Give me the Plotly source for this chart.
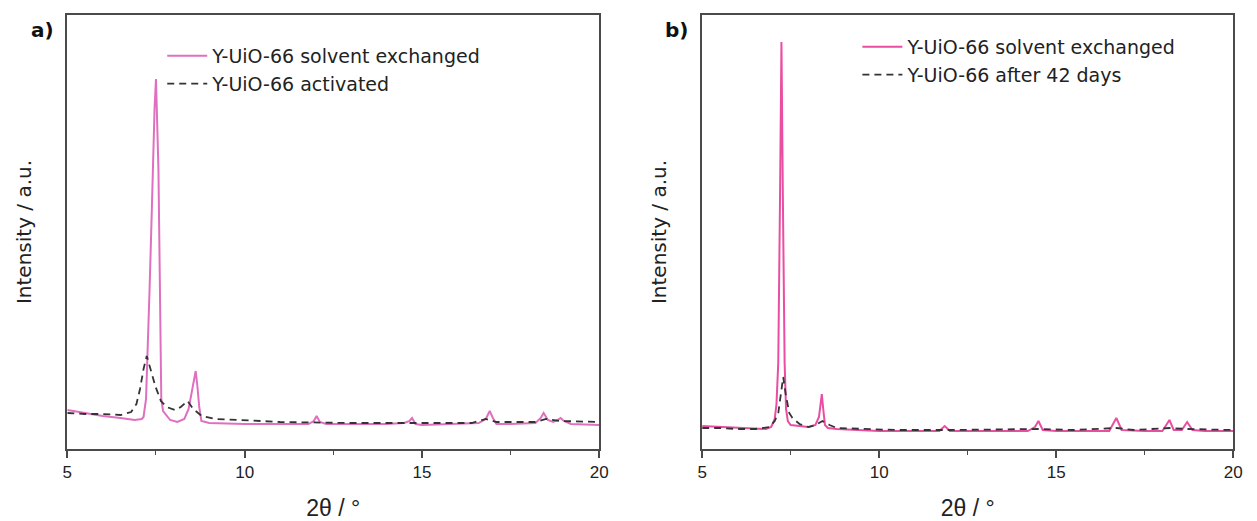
import plotly.graph_objects as go

# ---------------- data (2θ in degrees, intensity in arbitrary units) ----------------
a_solv_x = [5.0, 5.5, 6.0, 6.5, 6.9, 7.1, 7.15, 7.22, 7.26, 7.32, 7.37, 7.42, 7.46, 7.50, 7.54, 7.57, 7.59,
            7.62, 7.65, 7.7, 7.8, 7.9, 8.1, 8.3, 8.42, 8.5, 8.56, 8.62, 8.67, 8.72, 8.78, 9.0, 10.0,
            11.0, 11.8, 11.95, 12.03, 12.12, 12.3, 13.0, 14.0, 14.5, 14.65, 14.72, 14.82, 15.0, 16.0, 16.6,
            16.8, 16.91, 17.0, 17.1, 17.5, 18.2, 18.35, 18.43, 18.55, 18.7, 18.82, 18.91, 19.0, 19.2, 20.0]
a_solv_y = [39, 36, 33, 31, 29, 30, 32, 50, 89, 160, 222, 290, 340, 370, 330, 280, 222,
            100, 50, 38, 33, 29, 27, 30, 40, 55, 70, 78, 62, 42, 28, 26, 25,
            25, 25, 28, 33, 27, 25, 25, 25, 26, 28, 31, 25, 24, 25, 26,
            30, 38, 31, 25, 25, 26, 31, 36, 29, 27, 29, 31, 28, 25, 24]

a_act_x = [5.0, 5.5, 6.0, 6.5, 6.8, 6.95, 7.05, 7.15, 7.24, 7.35, 7.49, 7.64, 7.8, 8.04, 8.2, 8.39, 8.55,
           8.79, 9.2, 9.9, 11.0, 13.0, 15.0, 16.4, 16.8, 17.1, 18.2, 18.5, 18.9, 20.0]
a_act_y = [36, 35, 35, 34, 37, 45, 60, 80, 93, 80, 62, 48, 42, 39, 42, 48, 40,
           33, 30, 29, 27, 26, 26, 26, 30, 27, 27, 30, 28, 27]

b_solv_x = [5.0, 5.5, 6.0, 6.5, 6.8, 6.95, 7.05, 7.1, 7.15, 7.2, 7.24, 7.28, 7.33, 7.37, 7.42, 7.5, 7.75,
            8.0, 8.2, 8.3, 8.35, 8.38, 8.42, 8.47, 8.55, 8.8, 10.0, 11.0, 11.7, 11.85, 12.0, 13.0, 14.2,
            14.4, 14.5, 14.62, 15.0, 16.0, 16.5, 16.7, 16.85, 17.5, 18.0, 18.2, 18.32, 18.55, 18.7, 18.85, 19.2, 20.0]
b_solv_y = [23, 22, 21, 20, 20, 22, 30, 45, 86, 252, 407, 252, 86, 40, 28, 24, 23,
            22, 24, 32, 46, 55, 40, 24, 21, 20, 18, 18, 18, 23, 18, 18, 18,
            22, 28, 19, 18, 18, 18, 31, 19, 18, 18, 29, 19, 19, 27, 19, 18, 18]

b_age_x = [5.0, 5.5, 6.0, 6.5, 6.9, 7.05, 7.15, 7.22, 7.29, 7.36, 7.46, 7.55, 7.75, 8.0, 8.2, 8.4, 8.6,
           8.8, 9.5, 10.5, 12.0, 14.5, 15.5, 16.7, 17.2, 18.2, 18.7, 20.0]
b_age_y = [21, 21, 20, 20, 22, 28, 36, 55, 72, 55, 36, 31, 25, 22, 24, 28, 24,
           21, 20, 19, 19, 20, 19, 21, 19, 21, 20, 19]

x_ticks = [5, 10, 15, 20]
legend_a = ["Y-UiO-66 solvent exchanged", "Y-UiO-66 activated"]
legend_b = ["Y-UiO-66 solvent exchanged", "Y-UiO-66 after 42 days"]
panel_labels = ["a)", "b)"]

# ---------------- styling ----------------
W, H = 1257, 521
PINK_A = "#df6fbf"
PINK_B = "#ea4ea2"
DASH = "#333333"
AXCOL = "#4a4a4a"
FONT = "DejaVu Sans, Verdana, sans-serif"
NARROW = "Liberation Sans Narrow, Liberation Sans, Arial, sans-serif"

def px_x(p):
    return p / W

def px_y(p):
    return 1 - p / H

fig = go.Figure()

fig.add_trace(go.Scatter(x=a_solv_x, y=a_solv_y, mode="lines", name=legend_a[0],
                         line=dict(color=PINK_A, width=2), xaxis="x", yaxis="y",
                         legend="legend", legendgroup="a1"))
fig.add_trace(go.Scatter(x=a_act_x, y=a_act_y, mode="lines", name=legend_a[1],
                         line=dict(color=DASH, width=1.8, dash="7px,5px"), xaxis="x", yaxis="y",
                         legend="legend", legendgroup="a2"))
fig.add_trace(go.Scatter(x=b_solv_x, y=b_solv_y, mode="lines", name=legend_b[0],
                         line=dict(color=PINK_B, width=2), xaxis="x2", yaxis="y2",
                         legend="legend2", legendgroup="b1"))
fig.add_trace(go.Scatter(x=b_age_x, y=b_age_y, mode="lines", name=legend_b[1],
                         line=dict(color=DASH, width=1.8, dash="7px,5px"), xaxis="x2", yaxis="y2",
                         legend="legend2", legendgroup="b2"))

xcommon = dict(range=[5, 20], tickvals=x_ticks, ticks="outside", ticklen=7, tickwidth=1.5,
               tickcolor=AXCOL, showline=True, linecolor=AXCOL, linewidth=2, mirror=True,
               showgrid=False, zeroline=False,
               tickfont=dict(family=NARROW, size=17, color="#222"),
               minor=dict(dtick=2.5, tick0=5, ticks="outside", ticklen=4, tickcolor=AXCOL, tickwidth=1.2),
               title=dict(text="2θ / °", font=dict(family=NARROW, size=23, color="#222"), standoff=19))
ycommon = dict(range=[0, 434], showticklabels=False, ticks="", showline=True, linecolor=AXCOL,
               linewidth=2, mirror=True, showgrid=False, zeroline=False,
               title=dict(text="Intensity / a.u.", font=dict(family=FONT, size=20, color="#222"), standoff=28))

ybot, ytop = px_y(449), px_y(15)
fig.update_layout(
    width=W, height=H, margin=dict(l=0, r=0, t=0, b=0),
    paper_bgcolor="white", plot_bgcolor="white",
    xaxis=dict(domain=[px_x(63), px_x(601)], anchor="y", **xcommon),
    yaxis=dict(domain=[ybot, ytop], anchor="x", **ycommon),
    xaxis2=dict(domain=[px_x(705), px_x(1242)], anchor="y2", **xcommon),
    yaxis2=dict(domain=[ybot, ytop], anchor="x2", **ycommon),
    legend=dict(x=px_x(159), y=px_y(37), xanchor="left", yanchor="top", bgcolor="rgba(0,0,0,0)",
                font=dict(family=FONT, size=19, color="#222"), tracegroupgap=0,
                traceorder="grouped", itemwidth=40),
    legend2=dict(x=px_x(862), y=px_y(28), xanchor="left", yanchor="top", bgcolor="rgba(0,0,0,0)",
                 font=dict(family=FONT, size=19, color="#222"), tracegroupgap=0,
                 traceorder="grouped", itemwidth=40),
    showlegend=True,
)

fig.add_annotation(text="<b>" + panel_labels[0] + "</b>", x=px_x(38), y=px_y(30), xref="paper", yref="paper",
                   xanchor="center", yanchor="middle",
                   showarrow=False, font=dict(family=FONT, size=20, color="#111"))
fig.add_annotation(text="<b>" + panel_labels[1] + "</b>", x=px_x(679), y=px_y(30), xref="paper", yref="paper",
                   xanchor="center", yanchor="middle",
                   showarrow=False, font=dict(family=FONT, size=20, color="#111"))

fig.write_html("out.html")
